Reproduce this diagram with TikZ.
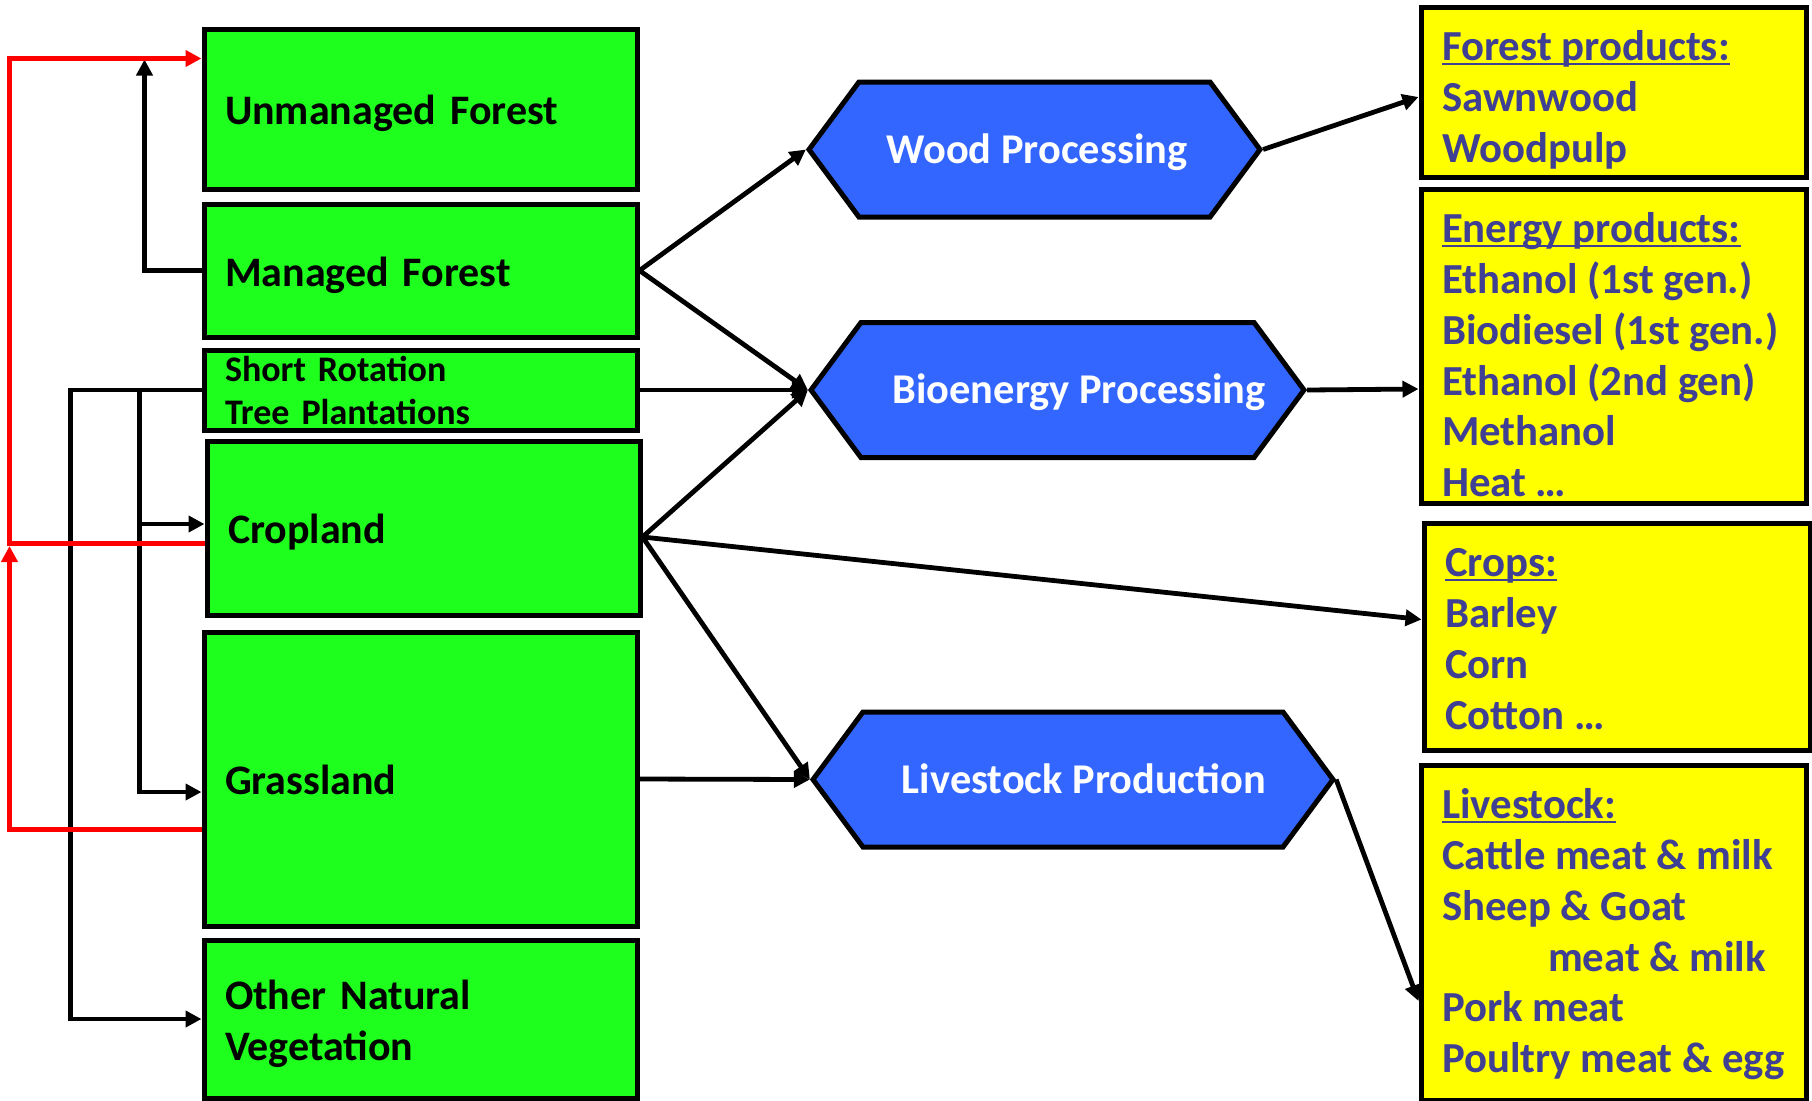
\documentclass[tikz,border=0pt]{standalone}
\usepackage{fontspec}
\setmainfont{Carlito}
\usetikzlibrary{arrows.meta,calc,shapes.symbols}
\definecolor{lgreen}{RGB}{30,255,30}
\definecolor{hblue}{RGB}{51,102,255}
\definecolor{ybg}{RGB}{255,255,0}
\definecolor{ytxt}{RGB}{63,63,148}
\newcommand{\GrnFont}{\fontsize{21}{25.5}\selectfont\bfseries}
\newcommand{\SrFont}{\fontsize{18}{21.5}\selectfont\bfseries}
\newcommand{\HexFont}{\fontsize{21.2}{24}\selectfont\bfseries}
\newcommand{\YelFont}{\fontsize{21.4}{25.4}\selectfont\bfseries}
\newcommand{\hdrline}[1]{\setbox0\hbox{#1}\rlap{\rule[-2pt]{\wd0}{1pt}}\box0}
\newcommand{\ylist}[3]{\parbox[c][#1][t]{#2}{\rule{0pt}{26.8pt}#3}}
\tikzset{
  gbox/.style={draw, line width=2.5pt, fill=lgreen, inner xsep=10.5pt, inner ysep=0pt,
    text width=195.5pt, align=left, font=\GrnFont, minimum width=216.5pt},
  oneline/.style={text height=15.5pt, text depth=0pt},
  hexa/.style={shape=signal, signal to=east and west, signal pointer angle=107,
    draw, line width=2.5pt, fill=hblue, text=white, font=\HexFont, inner sep=0pt,
    text height=13.7pt, text depth=0pt, minimum height=67.5pt},
  ybox/.style={draw, line width=2.5pt, fill=ybg, text=ytxt, inner sep=0pt, font=\YelFont},
  conn/.style={line width=2.4pt, black, line join=miter},
  redc/.style={line width=2.5pt, red, line join=miter},
  >={Triangle[length=8pt,width=8pt]}
}
\begin{document}
\begin{tikzpicture}[x=0.5pt,y=-0.5pt]
\fill[white] (0,0) rectangle (1812,1100);
\useasboundingbox (0,0) rectangle (1812,1100);

% green land-use boxes
\node[gbox, oneline, minimum height=80pt] (uf) at (420.5,109) {Unmanaged Forest};
\node[gbox, oneline, minimum height=66.5pt] (mf) at (420.5,270.5) {Managed Forest};
\node[gbox, font=\SrFont, minimum height=40pt] (sr) at (420.5,390) {Short Rotation\\Tree Plantations};
\node[gbox, oneline, minimum height=87pt] (cr) at (423.5,528) {Cropland};
\node[gbox, oneline, minimum height=147pt] (gr) at (420.5,779) {Grassland};
\node[gbox, minimum height=79pt] (on) at (420.5,1019) {\rule{0pt}{19.5pt}Other Natural\\Vegetation};

% blue processing hexagons
\node[hexa, minimum width=225.5pt] (wood) at (1034.5,149.5) {\makebox[0pt]{\hspace*{2.5pt}Wood Processing}};
\node[hexa, minimum width=246.5pt] (bio) at (1057.5,390) {\makebox[0pt]{\hspace*{21.5pt}Bioenergy Processing}};
\node[hexa, minimum width=260pt] (live) at (1073,779.5) {\makebox[0pt]{\hspace*{11pt}Livestock Production}};

% yellow product boxes
\node[ybox, minimum width=192.5pt, minimum height=85pt] (fp) at (1613.5,92)
  {\ylist{85pt}{171.5pt}{\hdrline{Forest products:}\\Sawnwood\\Woodpulp}};
\node[ybox, minimum width=192.5pt, minimum height=157pt] (ep) at (1613.5,346)
  {\ylist{157pt}{171.5pt}{\hdrline{Energy products:}\\Ethanol (1st gen.)\\Biodiesel (1st gen.)\\Ethanol (2nd gen)\\Methanol\\Heat \dots}};
\node[ybox, minimum width=193pt, minimum height=113.5pt] (cp) at (1617,636.5)
  {\ylist{113.5pt}{172pt}{\hdrline{Crops:}\\Barley\\Corn\\Cotton \dots}};
\node[ybox, minimum width=192.5pt, minimum height=167.5pt] (lv) at (1613.5,932.5)
  {\ylist{167.5pt}{171.5pt}{\hdrline{Livestock:}\\Cattle meat \& milk\\Sheep \& Goat\\\hspace*{53pt}meat \& milk\\Pork meat\\Poultry meat \& egg}};

% right-hand connectors
\coordinate (crout) at ($(cr.east)+(0,9)$);
\draw[conn,->] (mf.east) -- (wood.west);
\draw[conn,->] (mf.east) -- (bio.west);
\draw[conn,->] (sr.east) -- (bio.west);
\draw[conn,->] (crout) -- (bio.west);
\draw[conn,->] (crout) -- ($(cp.west)+(0,-17)$);
\draw[conn,->] (crout) -- (live.west);
\draw[conn,->] (gr.east) -- (live.west);
\draw[conn,->] (wood.east) -- ($(fp.west)+(0,5)$);
\draw[conn,->] (bio.east) -- ($(ep.west)+(0,43)$);
\draw[conn,->] (live.east) -- ($(lv.west)+(0,68.5)$);

% left-hand connectors
\draw[conn,->] (mf.west) -| ($(uf.north west)+(-57,33)$);
\draw[conn,->] (sr.west) -| ($(on.west)+(-131,0)$) -- (on.west);
\draw[conn,->] ($(sr.west)+(-62,0)$) |- ($(gr.west)+(0,13)$);
\draw[conn,->] ($(sr.west)+(-62,134)$) -- ($(cr.west)+(0,-4)$);
\draw[redc,->] ($(cr.west)+(0,15)$) -| ($(uf.north west)+(-192,32)$) -- ($(uf.north west)+(0,32)$);
\draw[redc,->] ($(gr.west)+(0,50)$) -| ($(cr.west)+(-195,18)$);
\end{tikzpicture}
\end{document}
